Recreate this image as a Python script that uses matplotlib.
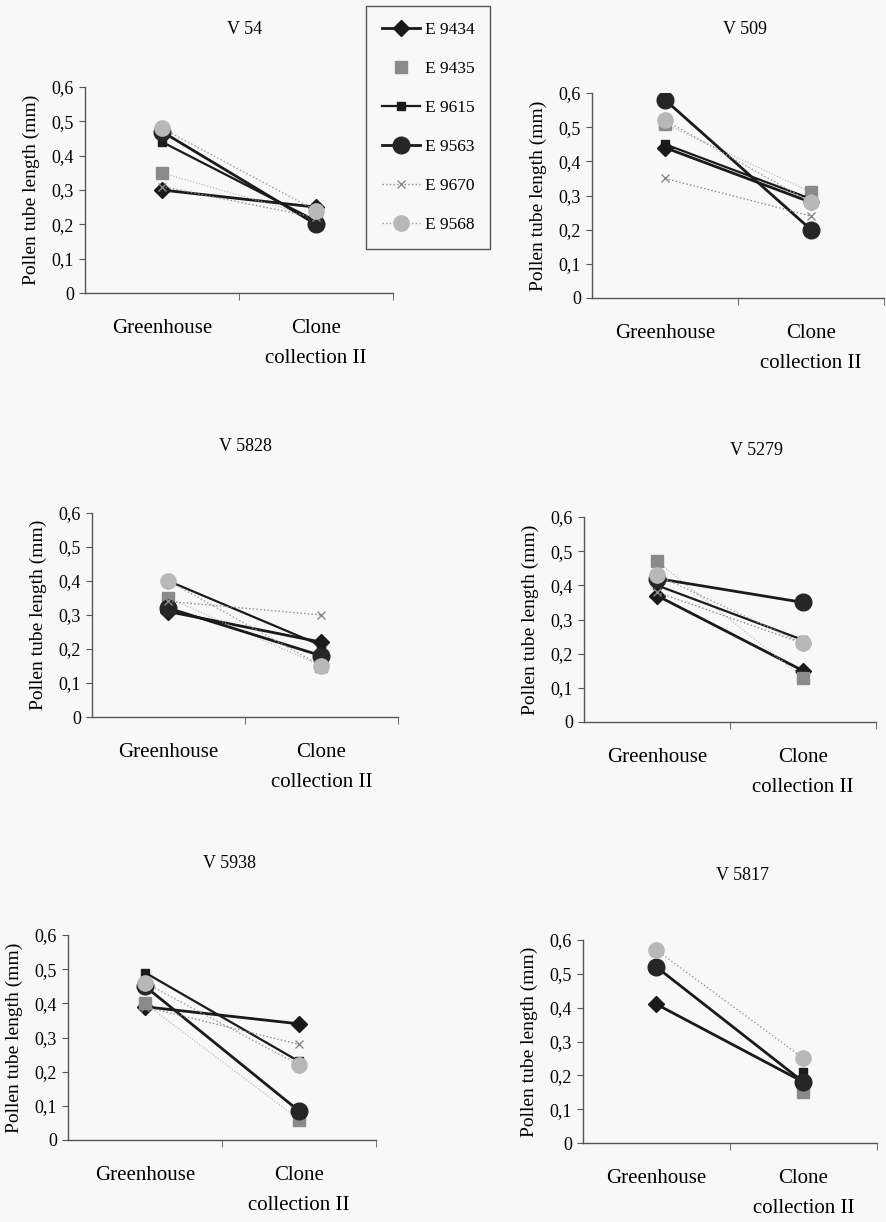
import numpy as np
import matplotlib
matplotlib.use("Agg")
import matplotlib.pyplot as plt
from matplotlib.lines import Line2D

plt.rcParams['font.family'] = ['Liberation Serif', 'DejaVu Serif']

# sitios y clones
categorias = ["Greenhouse", "Clone\ncollection II"]
clones = ["E 9434", "E 9435", "E 9615", "E 9563", "E 9670", "E 9568"]
paneles = ["V 54", "V 509", "V 5828", "V 5279", "V 5938", "V 5817"]

# longitud del tubo polínico (mm): [Greenhouse, Clone collection II] por clon
v54 = {"E 9434": [0.30, 0.25], "E 9435": [0.35, 0.22], "E 9615": [0.44, 0.21],
       "E 9563": [0.47, 0.20], "E 9670": [0.31, 0.22], "E 9568": [0.48, 0.24]}
v509 = {"E 9434": [0.44, 0.28], "E 9435": [0.51, 0.31], "E 9615": [0.45, 0.29],
        "E 9563": [0.58, 0.20], "E 9670": [0.35, 0.24], "E 9568": [0.52, 0.28]}
v5828 = {"E 9434": [0.31, 0.22], "E 9435": [0.35, 0.15], "E 9615": [0.40, 0.21],
         "E 9563": [0.32, 0.18], "E 9670": [0.34, 0.30], "E 9568": [0.40, 0.15]}
v5279 = {"E 9434": [0.37, 0.15], "E 9435": [0.47, 0.13], "E 9615": [0.40, 0.24],
         "E 9563": [0.42, 0.35], "E 9670": [0.38, 0.23], "E 9568": [0.43, 0.23]}
v5938 = {"E 9434": [0.39, 0.34], "E 9435": [0.40, 0.06], "E 9615": [0.49, 0.23],
         "E 9563": [0.45, 0.085], "E 9670": [0.39, 0.28], "E 9568": [0.46, 0.22]}
v5817 = {"E 9434": [0.41, 0.18], "E 9435": [np.nan, 0.15], "E 9615": [np.nan, 0.21],
         "E 9563": [0.52, 0.18], "E 9670": [np.nan, np.nan], "E 9568": [0.57, 0.25]}
datos = [v54, v509, v5828, v5279, v5938, v5817]

# estilo de cada clon
estilos = {
    "E 9434": dict(color="#1a1a1a", lw=2.0, ls="-", marker="D", ms=8, mfc="#1a1a1a", mec="#1a1a1a"),
    "E 9435": dict(color="#b0b0b0", lw=0.8, ls=":", marker="s", ms=9, mfc="#8a8a8a", mec="#8a8a8a"),
    "E 9615": dict(color="#1a1a1a", lw=1.6, ls="-", marker="s", ms=6, mfc="#1a1a1a", mec="#1a1a1a"),
    "E 9563": dict(color="#1a1a1a", lw=2.0, ls="-", marker="o", ms=12, mfc="#262626", mec="#262626"),
    "E 9670": dict(color="#8a8a8a", lw=1.0, ls=":", marker="x", ms=6, mfc="#8a8a8a", mec="#8a8a8a"),
    "E 9568": dict(color="#9a9a9a", lw=1.0, ls=":", marker="o", ms=11, mfc="#b8b8b8", mec="#b8b8b8"),
}

W, H = 887, 1222
fig = plt.figure(figsize=(W / 100, H / 100), dpi=100, facecolor="#f8f8f8")

# cajas de cada panel en pixeles: izquierda, derecha, y(0), y(0.6)
cajas = [(85, 393, 293, 87), (592, 884, 298, 93),
         (92, 398, 717, 513), (584, 876, 722, 517),
         (68, 376, 1140, 935), (583, 877, 1143, 940)]
titulos_pos = [(245, 30), (745, 30), (245, 447), (757, 450), (230, 863), (743, 876)]

for i, (x0, x1, y0, y1) in enumerate(cajas):
    ax = fig.add_axes([x0 / W, 1 - y0 / H, (x1 - x0) / W, (y0 - y1) / H])
    ax.set_facecolor("none")
    d = datos[i]
    for c in clones:
        ax.plot([0, 1], d[c], **estilos[c])
    ax.set_xlim(-0.5, 1.5)
    ax.set_ylim(0, 0.6)
    ax.set_yticks(np.arange(0, 0.61, 0.1))
    ax.set_yticklabels(["0", "0,1", "0,2", "0,3", "0,4", "0,5", "0,6"], fontsize=13)
    ax.set_xticks([0, 1])
    ax.set_xticklabels(categorias, fontsize=15, linespacing=1.75)
    ax.set_xticks([0.5, 1.5], minor=True)
    ax.tick_params(axis="x", which="major", length=0, pad=19)
    ax.tick_params(axis="x", which="minor", length=5, direction="out", color="#555555")
    ax.tick_params(axis="y", length=4, direction="out", color="#555555", pad=4)
    for s in ["top", "right"]:
        ax.spines[s].set_visible(False)
    for s in ["left", "bottom"]:
        ax.spines[s].set_color("#555555")
        ax.spines[s].set_linewidth(1.0)
    ax.set_ylabel("Pollen tube length (mm)", fontsize=14, labelpad=8)
    tx, ty = titulos_pos[i]
    fig.text(tx / W, 1 - ty / H, paneles[i], fontsize=13, ha="center", va="center")

# leyenda común
manejadores = []
for c in clones:
    e = dict(estilos[c])
    if c == "E 9435":
        e["ls"] = "none"
    manejadores.append(Line2D([], [], **e))
leg = fig.legend(manejadores, clones, loc="upper left",
                 bbox_to_anchor=(366 / W, 1 - 6 / H), borderaxespad=0,
                 fontsize=12.5, labelspacing=1.32, handlelength=2.2,
                 handletextpad=0.3, borderpad=0.9, fancybox=False, framealpha=1)
leg.get_frame().set_edgecolor("#555555")
leg.get_frame().set_facecolor("#f8f8f8")
leg.get_frame().set_linewidth(1.0)

fig.savefig("out.png", dpi=100, facecolor=fig.get_facecolor())
